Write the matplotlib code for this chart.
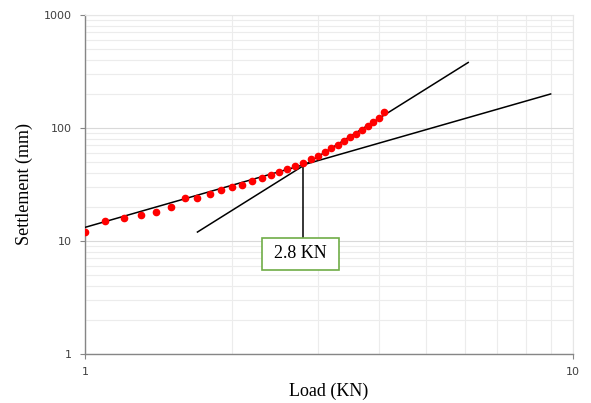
import matplotlib.pyplot as plt
from matplotlib.ticker import LogLocator, FixedLocator, NullFormatter

# measured load / settlement points
load = [1.0, 1.1, 1.2, 1.3, 1.4, 1.5, 1.6, 1.7, 1.8, 1.9, 2.0, 2.1, 2.2, 2.3,
        2.4, 2.5, 2.6, 2.7, 2.8, 2.9, 3.0, 3.1, 3.2, 3.3, 3.4, 3.5, 3.6, 3.7,
        3.8, 3.9, 4.0, 4.1]
settlement = [12, 15, 16, 17, 18, 20, 24, 24, 26, 28, 30, 31, 34, 36,
              38, 41, 43, 46, 49, 53, 56, 61, 66, 71, 77, 83, 89, 96,
              104, 113, 123, 139]

# tangent lines (end points)
line1_x = [1.0, 9.0]
line1_y = [13.2, 200]
line2_x = [1.7, 6.1]
line2_y = [12, 380]

# failure load marker
fail_load = 2.8
fail_settle = 47
callout_low = 10.7
callout_text = "2.8 KN"
callout_pos = (2.76, 7.7)

fig = plt.figure(figsize=(5.91, 4.03), dpi=100)
ax = fig.add_axes([0.1438, 0.1216, 0.8257, 0.8412])

ax.set_xscale("log")
ax.set_yscale("log")
ax.set_xlim(1, 10)
ax.set_ylim(1, 1000)

ax.xaxis.set_major_locator(FixedLocator([1, 10]))
ax.yaxis.set_major_locator(FixedLocator([1, 10, 100, 1000]))
ax.xaxis.set_minor_locator(LogLocator(base=10, subs=range(2, 10)))
ax.yaxis.set_minor_locator(LogLocator(base=10, subs=range(2, 10)))
ax.xaxis.set_minor_formatter(NullFormatter())
ax.yaxis.set_minor_formatter(NullFormatter())
ax.set_xticklabels(["1", "10"])
ax.set_yticklabels(["1", "10", "100", "1000"])

ax.grid(which="minor", color="#ececec", linewidth=0.8)
ax.grid(which="major", color="#d9d9d9", linewidth=0.8)
ax.set_axisbelow(True)

for side in ["top", "right"]:
    ax.spines[side].set_color("#e6e6e6")
    ax.spines[side].set_linewidth(0.8)
for side in ["left", "bottom"]:
    ax.spines[side].set_color("#868686")
    ax.spines[side].set_linewidth(1.0)

ax.tick_params(which="major", direction="out", length=3.5, width=0.8,
               color="#868686", labelsize=8, labelcolor="#404040", pad=6)
ax.tick_params(which="minor", length=0)
for lab in ax.get_xticklabels() + ax.get_yticklabels():
    lab.set_family("DejaVu Sans")

ax.plot(line1_x, line1_y, color="black", linewidth=1.1, zorder=3)
ax.plot(line2_x, line2_y, color="black", linewidth=1.1, zorder=3)
ax.plot(load, settlement, "o", color="red", markersize=4.5, zorder=4)
ax.plot([fail_load, fail_load], [callout_low, fail_settle], color="black",
        linewidth=1.1, zorder=3)

ax.text(callout_pos[0], callout_pos[1], callout_text, ha="center", va="center",
        fontsize=13, family="Liberation Serif", zorder=5,
        bbox=dict(boxstyle="square,pad=0.68", facecolor="white",
                  edgecolor="#70ad47", linewidth=1.2, mutation_aspect=0.6))

ax.set_xlabel("Load (KN)", fontsize=13, family="Liberation Serif", labelpad=4)
ax.set_ylabel("Settlement (mm)", fontsize=13, family="Liberation Serif",
              labelpad=8)

fig.savefig("out.png", dpi=100)
